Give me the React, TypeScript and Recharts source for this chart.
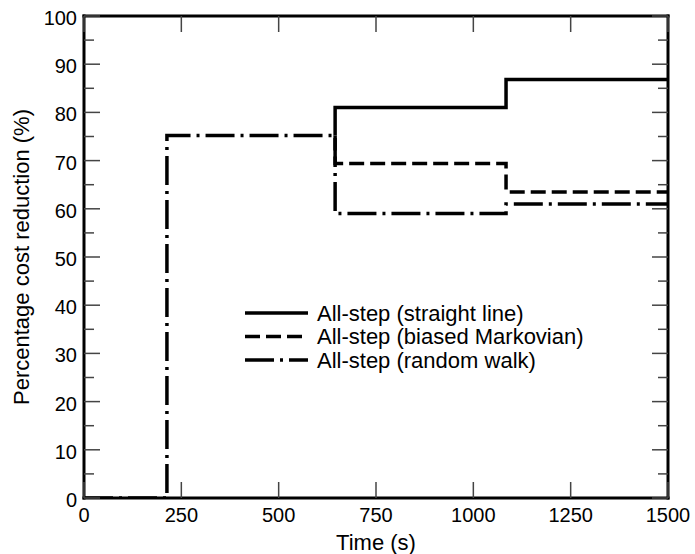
import { LineChart, Line, XAxis, YAxis, Legend } from 'recharts'

// Step series of cost reduction (%) against time (s); each point is where the value changes.
const X_TICKS = [0, 250, 500, 750, 1000, 1250, 1500]
const Y_TICKS = [0, 5, 10, 15, 20, 25, 30, 35, 40, 45, 50, 55, 60, 65, 70, 75, 80, 85, 90, 95, 100]

const straightT = [645, 645, 1084, 1500]
const straightV = [75.2, 81, 86.8, 86.8]

const markovT = [645, 645, 1084, 1500]
const markovV = [75.2, 69.4, 63.5, 63.5]

const walkT = [0, 213, 645, 1084, 1500]
const walkV = [0, 75.2, 59, 61, 61]

const SERIES = [
  { key: 'straight', name: 'All-step (straight line)', t: straightT, v: straightV, dash: undefined },
  { key: 'markov', name: 'All-step (biased Markovian)', t: markovT, v: markovV, dash: '15 6' },
  { key: 'walk', name: 'All-step (random walk)', t: walkT, v: walkV, dash: '29 6 3 6' },
]

const FONT = '"Liberation Sans", Arial, Helvetica, sans-serif'
const TICK_STROKE = '#444'
const FRAME = { stroke: '#000', strokeWidth: 3, strokeLinecap: 'square' as const }

const toRows = (t: number[], v: number[]) => t.map((x, i) => ({ t: x, v: v[i] }))

// tick marks point into the plot; labels only on the major ticks
const LeftTick = (props: any) => {
  const { x, y, payload } = props
  const major = payload.value % 10 === 0
  const ax = x + 7
  return (
    <g>
      <line x1={ax} x2={ax + (major ? 16 : 10)} y1={y} y2={y} stroke={TICK_STROKE} strokeWidth={1.5} />
      {major && (
        <text x={x} y={y + 9} textAnchor="end" fontSize={20} fill="#000" fontFamily={FONT}>
          {payload.value}
        </text>
      )}
    </g>
  )
}

const RightTick = (props: any) => {
  const { x, y, payload } = props
  const major = payload.value % 10 === 0
  return <line x1={x} x2={x - (major ? 16 : 10)} y1={y} y2={y} stroke={TICK_STROKE} strokeWidth={1.5} />
}

const BottomTick = (props: any) => {
  const { x, y, payload } = props
  const ay = y - 8
  return (
    <g>
      <line x1={x} x2={x} y1={ay} y2={ay - 16} stroke={TICK_STROKE} strokeWidth={1.5} />
      <text x={x} y={y + 16} textAnchor="middle" fontSize={20} fill="#000" fontFamily={FONT}>
        {payload.value}
      </text>
    </g>
  )
}

const TopTick = (props: any) => {
  const { x, y } = props
  return <line x1={x} x2={x} y1={y} y2={y + 16} stroke={TICK_STROKE} strokeWidth={1.5} />
}

const LegendBox = () => (
  <svg width={380} height={75} style={{ display: 'block', overflow: 'visible' }}>
    {SERIES.map((s, i) => {
      const cy = 13 + i * 23.5
      return (
        <g key={s.key}>
          <line x1={5} x2={68} y1={cy} y2={cy} stroke="#000" strokeWidth={3.5} strokeDasharray={s.dash} />
          <text x={77} y={cy + 7.5} fontSize={22} fill="#000" fontFamily={FONT}>
            {s.name}
          </text>
        </g>
      )
    })}
  </svg>
)

export default function App() {
  return (
    <div style={{ position: 'absolute', left: 0, top: 0, background: '#fff' }}>
      <LineChart
        width={695}
        height={554}
        margin={{ top: 0, right: 0, bottom: 0, left: 0 }}
        style={{ fontFamily: FONT }}
      >
        <XAxis
          xAxisId="b"
          dataKey="t"
          type="number"
          domain={[0, 1500]}
          ticks={X_TICKS}
          allowDataOverflow
          height={56}
          tickSize={0}
          tickMargin={8}
          tickLine={false}
          axisLine={FRAME}
          tick={<BottomTick />}
          interval={0}
          label={{ value: 'Time (s)', position: 'insideBottom', offset: 4, fontSize: 22, fill: '#000' }}
        />
        <XAxis
          xAxisId="t"
          orientation="top"
          dataKey="t"
          type="number"
          domain={[0, 1500]}
          ticks={X_TICKS}
          allowDataOverflow
          height={16}
          tickSize={0}
          tickMargin={0}
          tickLine={false}
          axisLine={FRAME}
          tick={<TopTick />}
          interval={0}
        />
        <YAxis
          yAxisId="l"
          type="number"
          domain={[0, 100]}
          ticks={Y_TICKS}
          allowDataOverflow
          width={84}
          tickSize={0}
          tickMargin={7}
          tickLine={false}
          axisLine={FRAME}
          tick={<LeftTick />}
          interval={0}
          label={{
            value: 'Percentage cost reduction (%)',
            angle: -90,
            position: 'insideLeft',
            offset: 21,
            fontSize: 22,
            fill: '#000',
            style: { textAnchor: 'middle' },
          }}
        />
        <YAxis
          yAxisId="r"
          orientation="right"
          type="number"
          domain={[0, 100]}
          ticks={Y_TICKS}
          allowDataOverflow
          width={27}
          tickSize={0}
          tickMargin={0}
          tickLine={false}
          axisLine={FRAME}
          tick={<RightTick />}
          interval={0}
        />
        <Legend
          layout="vertical"
          align="center"
          verticalAlign="middle"
          wrapperStyle={{ left: 240, top: 300, width: 380 }}
          content={<LegendBox />}
        />
        {SERIES.map(s => (
          <Line
            key={s.key}
            xAxisId="b"
            yAxisId="l"
            data={toRows(s.t, s.v)}
            dataKey="v"
            name={s.name}
            type="stepAfter"
            stroke="#000"
            strokeWidth={3.5}
            strokeDasharray={s.dash}
            dot={false}
            activeDot={false}
            isAnimationActive={false}
          />
        ))}
      </LineChart>
    </div>
  )
}
